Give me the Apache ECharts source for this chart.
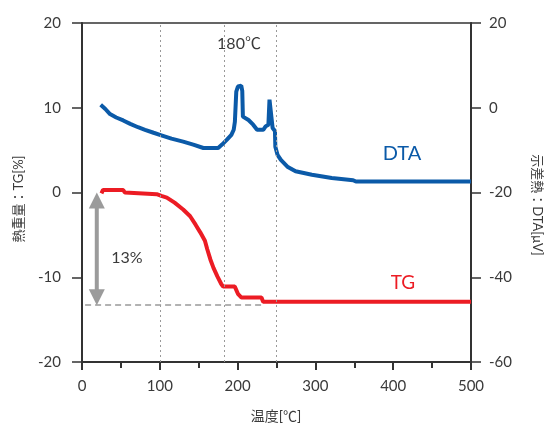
<!DOCTYPE html>
<html lang="ja">
<head>
<meta charset="utf-8">
<script src="https://cdn.jsdelivr.net/npm/echarts@6/dist/echarts.min.js"></script>
</head>
<body style="margin:0">
<div id="container" style="width:544px;height:426px"></div>
<script type="text/javascript">
// DTA (right axis, µV)
var dtaTemp = [24, 30, 36, 44, 53, 62, 72, 81, 92, 102, 115, 130, 143, 156, 175, 180, 186, 192, 195, 196.5,
    198.3, 200.4, 204.7, 206, 206.8, 214, 220, 225, 233, 236, 239.6, 241, 243.5, 245, 248, 248.5,
    251.3, 255.6, 264, 274.5, 295.5, 321, 348.5, 352, 500];
var dtaValue = [0.7, -0.3, -1.5, -2.3, -3.0, -3.8, -4.6, -5.2, -5.9, -6.5, -7.3, -8.0, -8.7, -9.5, -9.5, -8.7, -7.6, -6.4, -5.2, -3.3,
    3.8, 5.0, 5.2, 4.0, -2.1, -2.9, -4.0, -5.2, -5.2, -4.4, -4.0, 1.9, 1.9, -4.8, -5.5, -9.2,
    -11.1, -12.3, -13.9, -15.0, -15.8, -16.6, -17.1, -17.4, -17.4];
// TG (left axis, %)
var tgTemp = [25, 27, 53, 55, 96, 102, 109, 119, 130, 139, 146, 152, 158, 161, 165, 169, 174, 179, 181.4,
    196.4, 200.7, 205, 230.7, 232.8, 500];
var tgValue = [-0.1, 0.3, 0.3, 0, -0.2, -0.4, -0.6, -1.2, -2.0, -2.8, -3.8, -4.7, -5.7, -6.7, -7.9, -8.9, -9.9, -10.8, -11.1,
    -11.1, -12.0, -12.4, -12.4, -12.9, -12.9];
var guideTemps = [100, 183, 250];
var lossLevel = -13.3;
var lossLineTemps = [4, 232];
var lossArrow = [19, 0, -13.3];   // temp, top, bottom
var xTicks = [0, 100, 200, 300, 400, 500];
var tgTicks = [-20, -10, 0, 10, 20];
var dtaTicks = [-60, -40, -20, 0, 20];

function zip(a, b) {
    var out = [];
    for (var i = 0; i < a.length; i++) out.push([a[i], b[i]]);
    return out;
}

var FONT = 'Lato, "Noto Sans CJK JP", sans-serif';
var TEXT = '#3a3a3a';
var BLUE = '#0b5aa8';
var RED = '#ec1c24';

var myChart = echarts.init(document.getElementById('container'));
var option = {
    animation: false,
    grid: {left: 82, top: 23, right: 73, bottom: 64, show: true, borderColor: '#333', borderWidth: 1.5},
    xAxis: {
        type: 'value',
        min: xTicks[0], max: xTicks[xTicks.length - 1], interval: xTicks[1] - xTicks[0],
        axisLine: {onZero: false, lineStyle: {color: '#333', width: 2}},
        axisTick: {length: 8, lineStyle: {color: '#333', width: 2}},
        minorTick: {show: true, splitNumber: 2, length: 6, lineStyle: {color: '#333', width: 2}},
        axisLabel: {margin: 17, color: TEXT, fontSize: 15, fontFamily: FONT},
        splitLine: {show: false}
    },
    yAxis: [{
        type: 'value', position: 'left',
        min: tgTicks[0], max: tgTicks[tgTicks.length - 1], interval: tgTicks[1] - tgTicks[0],
        axisLine: {show: true, lineStyle: {color: '#333', width: 2}},
        axisTick: {show: true, length: 10, lineStyle: {color: '#333', width: 1.5}},
        axisLabel: {margin: 21, color: TEXT, fontSize: 15, fontFamily: FONT},
        splitLine: {show: false}
    }, {
        type: 'value', position: 'right',
        min: dtaTicks[0], max: dtaTicks[dtaTicks.length - 1], interval: dtaTicks[1] - dtaTicks[0],
        axisLine: {show: true, lineStyle: {color: '#333', width: 2}},
        axisTick: {show: true, length: 10, lineStyle: {color: '#333', width: 1.5}},
        axisLabel: {margin: 18, color: TEXT, fontSize: 15, fontFamily: FONT},
        splitLine: {show: false}
    }],
    series: [{
        name: 'guides',
        type: 'line',
        data: [],
        markLine: {
            silent: true,
            symbol: 'none',
            label: {show: false},
            lineStyle: {color: '#999', type: [2, 3], width: 1},
            data: guideTemps.map(function (t) { return {xAxis: t}; })
                .concat([[
                    {coord: [lossLineTemps[0], lossLevel], lineStyle: {type: [6, 4], width: 1.5, color: '#999'}},
                    {coord: [lossLineTemps[1], lossLevel]}
                ]])
        }
    }, {
        name: 'TG',
        type: 'line',
        yAxisIndex: 0,
        data: zip(tgTemp, tgValue),
        showSymbol: false,
        lineStyle: {color: RED, width: 4},
        itemStyle: {color: RED},
        z: 3
    }, {
        name: 'DTA',
        type: 'line',
        yAxisIndex: 1,
        data: zip(dtaTemp, dtaValue),
        showSymbol: false,
        lineStyle: {color: BLUE, width: 4},
        itemStyle: {color: BLUE},
        z: 3
    }, {
        name: 'arrow',
        type: 'custom',
        yAxisIndex: 0,
        silent: true,
        data: [lossArrow],
        encode: {x: 0, y: [1, 2]},
        renderItem: function (params, api) {
            var top = api.coord([api.value(0), api.value(1)]);
            var bot = api.coord([api.value(0), api.value(2)]);
            var x = top[0], h = 16, w = 8;
            var style = {fill: '#9b9b9b'};
            return {
                type: 'group',
                children: [
                    {type: 'rect', shape: {x: x - 2, y: top[1] + h - 1, width: 4, height: bot[1] - top[1] - 2 * h + 2}, style: style},
                    {type: 'polygon', shape: {points: [[x, top[1]], [x - w, top[1] + h], [x + w, top[1] + h]]}, style: style},
                    {type: 'polygon', shape: {points: [[x, bot[1]], [x - w, bot[1] - h], [x + w, bot[1] - h]]}, style: style}
                ]
            };
        }
    }],
    graphic: [
        {type: 'text', x: 239, y: 44, style: {text: '180℃', font: '16px ' + FONT, fill: TEXT, align: 'center', verticalAlign: 'middle', textAlign: 'center', textVerticalAlign: 'middle'}},
        {type: 'text', x: 127, y: 258, style: {text: '13%', font: '16px ' + FONT, fill: TEXT, align: 'center', verticalAlign: 'middle', textAlign: 'center', textVerticalAlign: 'middle'}},
        {type: 'text', x: 402, y: 154, style: {text: 'DTA', font: '20px ' + FONT, fill: BLUE, align: 'center', verticalAlign: 'middle', textAlign: 'center', textVerticalAlign: 'middle'}},
        {type: 'text', x: 403, y: 283, style: {text: 'TG', font: '19px ' + FONT, fill: RED, align: 'center', verticalAlign: 'middle', textAlign: 'center', textVerticalAlign: 'middle'}},
        {type: 'text', x: 276, y: 416, style: {text: '温度[℃]', font: '14px ' + FONT, fill: TEXT, align: 'center', verticalAlign: 'middle', textAlign: 'center', textVerticalAlign: 'middle'}},
        {type: 'text', x: 19, y: 199, rotation: Math.PI / 2, style: {text: '熱重量：TG[%]', font: '13px ' + FONT, fill: TEXT, align: 'center', verticalAlign: 'middle', textAlign: 'center', textVerticalAlign: 'middle'}},
        {type: 'text', x: 537, y: 205, rotation: -Math.PI / 2, style: {text: '示差熱：DTA[μV]', font: '13px ' + FONT, fill: TEXT, align: 'center', verticalAlign: 'middle', textAlign: 'center', textVerticalAlign: 'middle'}}
    ]
};
myChart.setOption(option);
</script>
</body>
</html>
